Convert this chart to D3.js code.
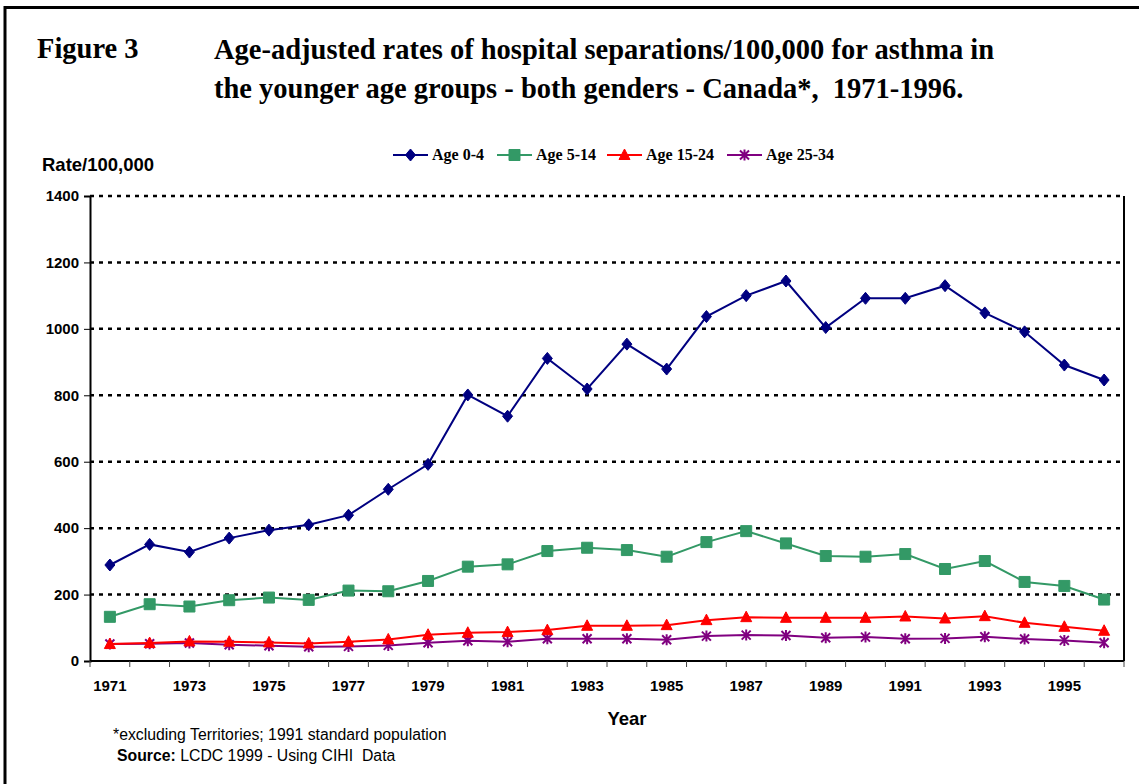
<!DOCTYPE html>
<html>
<head>
<meta charset="utf-8">
<script src="https://cdn.jsdelivr.net/npm/d3@7"></script>
<style>
  body { margin: 0; background: #fff; }
  svg { display: block; }
  text { white-space: pre; }
</style>
</head>
<body>
<div id="chart-area"></div>
<script>
// data
var years = d3.range(1971, 1997);
var age0_4 = [289, 351, 328, 370, 394, 410, 439, 517, 592, 801, 737, 911, 819, 954, 879, 1037, 1100, 1144, 1004, 1092, 1092, 1130, 1048, 991, 891, 846];
var age5_14 = [133, 171, 164, 183, 191, 184, 212, 210, 241, 284, 291, 331, 341, 334, 314, 358, 391, 354, 316, 314, 322, 277, 301, 238, 226, 185];
var age15_24 = [51, 54, 59, 58, 56, 53, 58, 65, 79, 85, 87, 93, 106, 106, 108, 123, 132, 130, 130, 130, 134, 128, 135, 115, 103, 91];
var age25_34 = [51, 52, 54, 49, 46, 43, 44, 47, 55, 61, 58, 67, 67, 67, 64, 75, 78, 77, 70, 72, 67, 68, 73, 66, 62, 55];
var seriesNames = ["Age 0-4", "Age 5-14", "Age 15-24", "Age 25-34"];
var yTicks = [0, 200, 400, 600, 800, 1000, 1200, 1400];

var W = 1139, H = 784;
var margin = { left: 90, right: 15, top: 196, bottom: 123 };
var width = W - margin.left - margin.right,
    height = H - margin.top - margin.bottom;

var serif = "Liberation Serif, Times New Roman, serif",
    sans = "Liberation Sans, Arial, sans-serif";

var svg = d3.select("#chart-area").append("svg")
    .attr("width", W)
    .attr("height", H);

// outer frame
svg.append("rect")
    .attr("x", 5).attr("y", 7.5)
    .attr("width", W).attr("height", H)
    .attr("fill", "none")
    .attr("stroke", "#000")
    .attr("stroke-width", 3);

// titles
svg.append("text")
    .attr("x", 37).attr("y", 58)
    .attr("font-family", serif)
    .attr("font-weight", "bold")
    .attr("font-size", "28.5px")
    .text("Figure 3");

var title = svg.append("text")
    .attr("font-family", serif)
    .attr("font-weight", "bold")
    .attr("font-size", "28.5px");
title.append("tspan").attr("x", 214).attr("y", 59)
    .text("Age-adjusted rates of hospital separations/100,000 for asthma in");
title.append("tspan").attr("x", 214).attr("y", 98)
    .text("the younger age groups - both genders - Canada*,  1971-1996.");

var g = svg.append("g")
    .attr("transform", "translate(" + margin.left + "," + margin.top + ")");

// scales
var x = d3.scaleBand().domain(years).range([0, width]);
var y = d3.scaleLinear().domain([0, 1400]).range([height, 0]);

// dotted gridlines
g.selectAll(".grid").data(yTicks.slice(1)).enter().append("line")
    .attr("class", "grid")
    .attr("x1", 0).attr("x2", width)
    .attr("y1", function(d){ return y(d); })
    .attr("y2", function(d){ return y(d); })
    .attr("stroke", "#000")
    .attr("stroke-width", 2.5)
    .attr("stroke-dasharray", "4,5");

// right border of plot
g.append("line")
    .attr("x1", width).attr("x2", width)
    .attr("y1", 0).attr("y2", height)
    .attr("stroke", "#000").attr("stroke-width", 2);

// Y axis
var yAxis = g.append("g")
    .call(d3.axisLeft(y).tickValues(yTicks).tickFormat(d3.format("d")).tickSize(6).tickPadding(5));
yAxis.select(".domain").attr("stroke-width", 2);
yAxis.selectAll("text")
    .attr("font-family", sans)
    .attr("font-weight", "bold")
    .attr("font-size", "15px")
    .attr("fill", "#000");

// X axis: ticks at band edges, labels every other year
var xa = g.append("g").attr("transform", "translate(0," + height + ")");
xa.append("line")
    .attr("x1", 0).attr("x2", width)
    .attr("stroke", "#000").attr("stroke-width", 2);
xa.selectAll(".xtick").data(years.concat([1997])).enter().append("line")
    .attr("x1", function(d){ return d === 1997 ? width : x(d); })
    .attr("x2", function(d){ return d === 1997 ? width : x(d); })
    .attr("y1", 0).attr("y2", 6)
    .attr("stroke", "#444").attr("stroke-width", 1);
xa.selectAll(".xlab").data(years.filter(function(d){ return d % 2 === 1; })).enter().append("text")
    .attr("x", function(d){ return x(d) + x.bandwidth() / 2; })
    .attr("y", 30)
    .attr("text-anchor", "middle")
    .attr("font-family", sans)
    .attr("font-weight", "bold")
    .attr("font-size", "15px")
    .text(function(d){ return d; });

// axis titles
svg.append("text")
    .attr("x", 42).attr("y", 171)
    .attr("font-family", sans)
    .attr("font-weight", "bold")
    .attr("font-size", "18.5px")
    .text("Rate/100,000");
svg.append("text")
    .attr("x", 627).attr("y", 725)
    .attr("text-anchor", "middle")
    .attr("font-family", sans)
    .attr("font-weight", "bold")
    .attr("font-size", "18.5px")
    .text("Year");

// footnotes
svg.append("text")
    .attr("x", 113).attr("y", 740)
    .attr("font-family", sans)
    .attr("font-size", "15.8px")
    .text("*excluding Territories; 1991 standard population");
var src = svg.append("text")
    .attr("x", 117).attr("y", 761)
    .attr("font-family", sans)
    .attr("font-size", "15.8px");
src.append("tspan").attr("font-weight", "bold").text("Source:");
src.append("tspan").text(" LCDC 1999 - Using CIHI  Data");

// series
var series = [
    { name: seriesNames[0], values: age0_4, color: "#000080", shape: "diamond" },
    { name: seriesNames[1], values: age5_14, color: "#339966", shape: "square" },
    { name: seriesNames[2], values: age15_24, color: "#ff0000", shape: "triangle" },
    { name: seriesNames[3], values: age25_34, color: "#800080", shape: "star" }
];

function markerPath(shape) {
    if (shape === "diamond") return "M0,-6L5,0L0,6L-5,0Z";
    if (shape === "square") return "M-5.5,-5.5H5.5V5.5H-5.5Z";
    if (shape === "triangle") return "M0,-6L5.5,4.5H-5.5Z";
    return "M-4.5,-4.5L4.5,4.5M-4.5,4.5L4.5,-4.5M0,-5.5V5.5";
}

function drawMarker(sel, s) {
    var p = sel.append("path").attr("d", markerPath(s.shape));
    if (s.shape === "star") {
        p.attr("fill", "none").attr("stroke", s.color).attr("stroke-width", 2);
    } else {
        p.attr("fill", s.color).attr("stroke", s.color).attr("stroke-width", 1);
    }
}

var line = d3.line()
    .x(function(d, i){ return x(years[i]) + x.bandwidth() / 2; })
    .y(function(d){ return y(d); });

// draw from bottom series upward so the navy is on top
series.slice().reverse().forEach(function(s) {
    g.append("path")
        .attr("d", line(s.values))
        .attr("fill", "none")
        .attr("stroke", s.color)
        .attr("stroke-width", 2);
    s.values.forEach(function(v, i) {
        var m = g.append("g")
            .attr("transform", "translate(" + (x(years[i]) + x.bandwidth() / 2) + "," + y(v) + ")");
        drawMarker(m, s);
    });
});

// legend
var legendX = [393, 497, 607, 727];
series.forEach(function(s, i) {
    var lg = svg.append("g").attr("transform", "translate(" + legendX[i] + ",155)");
    lg.append("line")
        .attr("x1", 0).attr("x2", 35)
        .attr("stroke", s.color).attr("stroke-width", 2);
    var m = lg.append("g").attr("transform", "translate(17.5,0)");
    drawMarker(m, s);
    lg.append("text")
        .attr("x", 39).attr("y", 5)
        .attr("font-family", serif)
        .attr("font-weight", "bold")
        .attr("font-size", "16px")
        .text(s.name);
});
</script>
</body>
</html>
